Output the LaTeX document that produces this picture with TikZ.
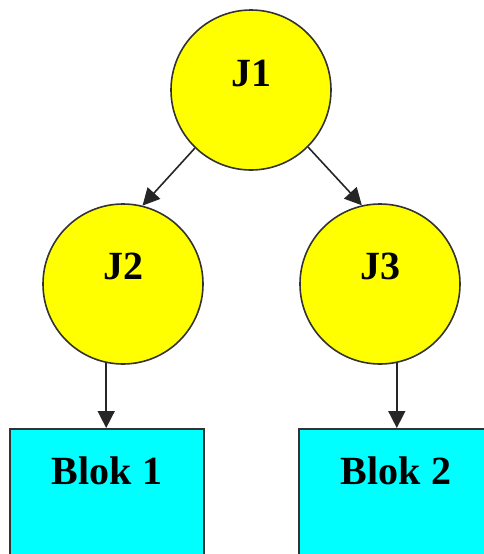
\documentclass[tikz,border=0pt]{standalone}
\usepackage{fontspec}
\setmainfont{Liberation Serif}
\usetikzlibrary{arrows.meta}
\definecolor{jyellow}{RGB}{255,255,0}
\definecolor{bcyan}{RGB}{0,255,255}

\begin{document}
\begin{tikzpicture}
  [x=1pt,y=-1pt,
   font=\fontsize{40}{44}\selectfont\bfseries,
   junction/.style={circle,draw=black!80,line width=1.6pt,fill=jyellow,
                    minimum size=160pt,inner sep=0pt},
   blok/.style={rectangle,draw=black!80,line width=1.6pt,fill=bcyan,
                minimum width=194pt,minimum height=170pt,anchor=north},
   link/.style={draw=black!85,line width=1.6pt,-{Triangle[length=17pt,width=17pt]}}]
  \clip (0,0) rectangle (484,554);
  % junctions
  \node[junction,label={[yshift=17pt]center:J1}] (J1) at (251,90) {};
  \node[junction,label={[yshift=18pt]center:J2}] (J2) at (123,284) {};
  \node[junction,label={[yshift=18pt]center:J3}] (J3) at (380,284) {};
  % blocks, bottom edge runs off the page
  \node[blok,label={[yshift=-60pt]north:Blok 1}] (B1) at (107,428) {};
  \node[blok,label={[yshift=-60pt]north:Blok 2}] (B2) at (396,428) {};
  % links
  \draw[link] (J1.-134) -- (J2.76);
  \draw[link] (J1.-45) -- (J3.103);
  \draw[link] (J2.-102) -- (J2.-102 |- B1.north);
  \draw[link] (J3.-78) -- (J3.-78 |- B2.north);
\end{tikzpicture}
\end{document}
